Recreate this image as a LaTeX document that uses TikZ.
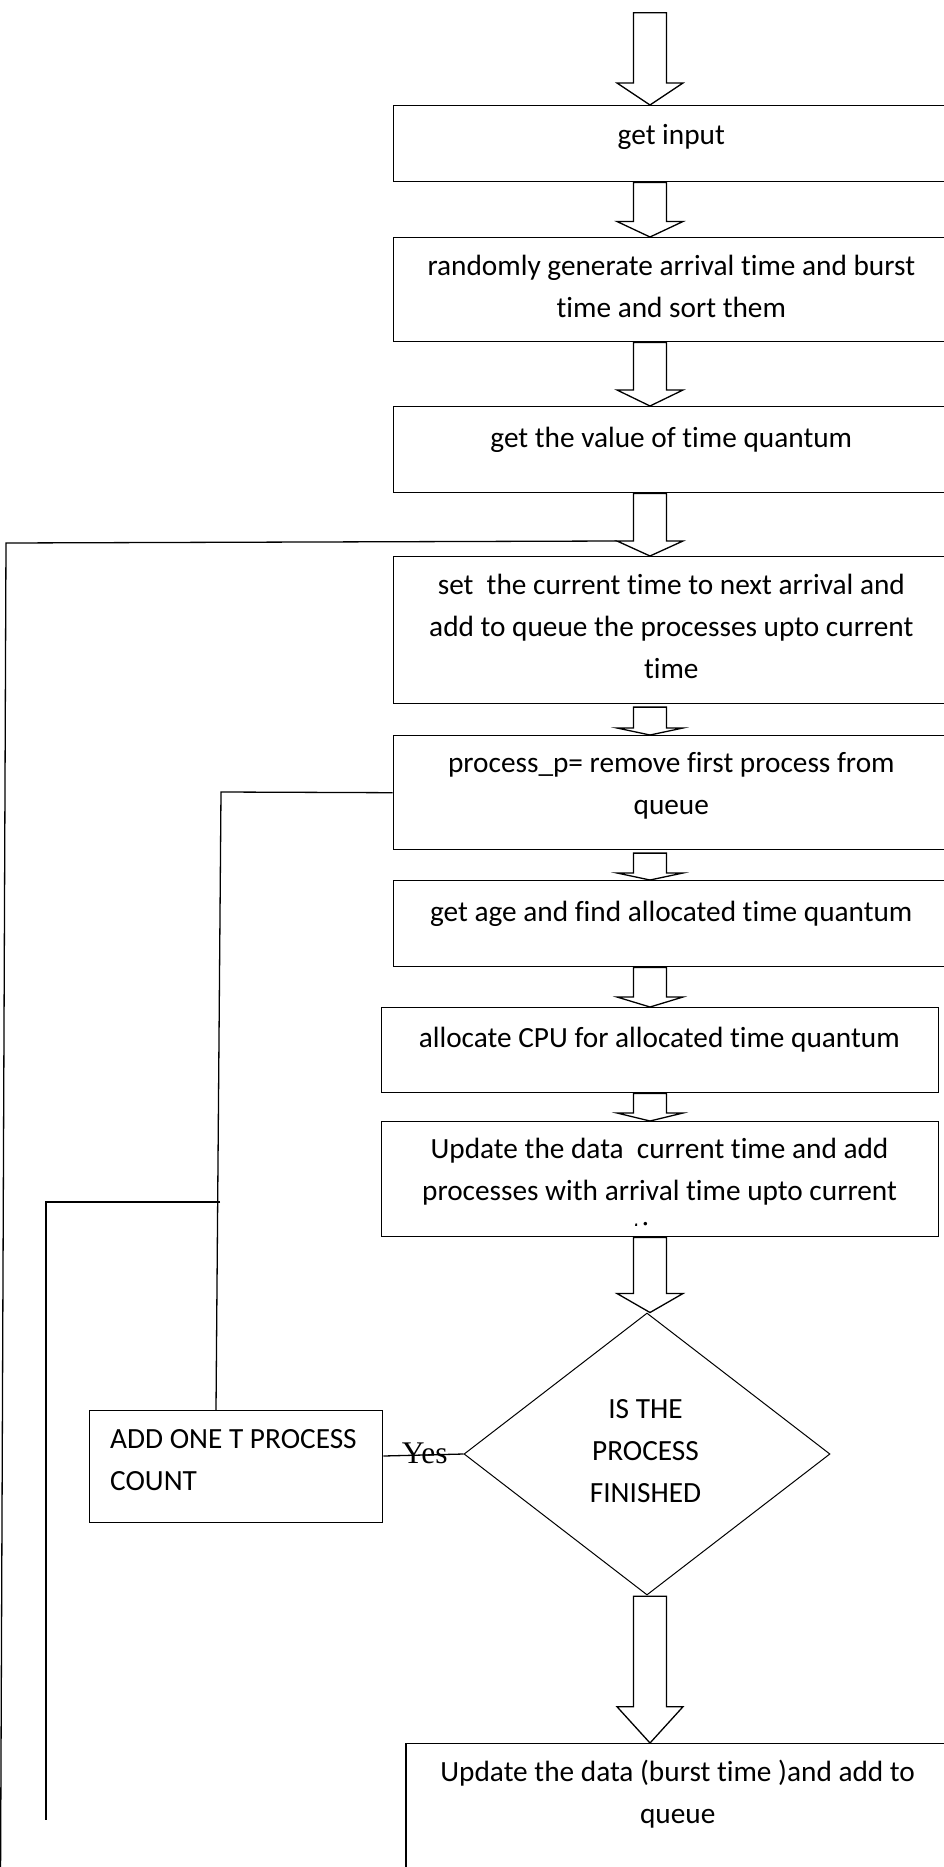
\documentclass[tikz,border=0pt]{standalone}
\usepackage{fontspec}
\setmainfont{Carlito}[Ligatures=NoCommon]
\newfontfamily\yesfont{Liberation Serif}
\usetikzlibrary{shapes.geometric,calc}

\tikzset{
  stepbox/.style={draw, line width=1.4pt, inner sep=0pt, anchor=north west},
  boxtext/.style={inner sep=0pt, anchor=north, align=center,
    font=\fontsize{29.3}{42}\selectfont, execute at begin node=\strut},
  blockarr/.style={draw, fill=white, line width=1.3pt, line join=miter},
  conn/.style={line width=1.3pt},
  decision/.style={diamond, draw, line width=1pt, inner sep=0pt},
  yeslbl/.style={inner sep=0pt, anchor=base west, font=\yesfont\fontsize{31.5}{36}\selectfont},
}

% hollow block arrow between two anchors: #1 source, #2 target,
% #3 gap below the source, #4 head length
\def\arrx{650pt}
\newcommand\blockarrow[4]{%
  \draw[blockarr] let \p1=(#1), \p2=(#2) in
    (\arrx-16.5pt,\y1-#3pt) -- (\arrx-16.5pt,\y2+#4pt) -- (\arrx-33pt,\y2+#4pt)
    -- (\arrx,\y2) -- (\arrx+33pt,\y2+#4pt) -- (\arrx+16.5pt,\y2+#4pt)
    -- (\arrx+16.5pt,\y1-#3pt) -- cycle;}

\begin{document}
\begin{tikzpicture}[x=1pt,y=-1pt]
\useasboundingbox (0,0) rectangle (944,1867);
\clip (0,0) rectangle (944,1867);

% process boxes
\node[stepbox, minimum width=557.4pt, minimum height=76pt]  (b1) at (392.6,105) {};
\node[stepbox, minimum width=557.4pt, minimum height=104pt] (b2) at (392.6,237) {};
\node[stepbox, minimum width=557.4pt, minimum height=86pt]  (b3) at (392.6,406) {};
\node[stepbox, minimum width=557.5pt, minimum height=147pt] (b4) at (392.5,556) {};
\node[stepbox, minimum width=557.5pt, minimum height=114pt] (b5) at (392.5,735) {};
\node[stepbox, minimum width=557.5pt, minimum height=86pt]  (b6) at (392.5,880) {};
\node[stepbox, minimum width=556.5pt, minimum height=85pt]  (b7) at (381,1007) {};
\node[stepbox, minimum width=557pt,   minimum height=115pt] (b8) at (381,1121) {};
\node[stepbox, minimum width=545pt,   minimum height=200pt] (b10) at (405.4,1743) {};
\node[stepbox, minimum width=293pt,   minimum height=112pt] (add) at (89,1410) {};
\node[decision, minimum width=366pt, minimum height=282pt] (d) at (647,1454) {};

% box texts
\node[boxtext] (t1) at (671.3,114.8) {get input};
\node[boxtext] (t2) at (671.3,254.8) {randomly generate arrival time and burst\\time and sort them};
\node[boxtext] (t3) at (671.3,417.8) {get the value of time quantum};
\node[boxtext] (t4) at (671.3,573.8) {set\ \ the current time to next arrival and\\add to queue the processes upto current\\time};
\node[boxtext] (t5) at (671.3,752.3) {process\_p= remove first process from\\queue};
\node[boxtext] (t6) at (671.3,891.8) {get age and find allocated time quantum};
\node[boxtext] (t7) at (659.3,1017.8) {allocate CPU for allocated time quantum};
\begin{scope}
  \clip (381,1121) rectangle (938,1225);
  \node[boxtext] (t8) at (659.5,1138.3) {Update the data\ \ current time and add\\processes with arrival time upto current\\time};
\end{scope}
\node[boxtext, anchor=north west, align=left] (tadd) at (110,1429.3) {ADD ONE T PROCESS\\COUNT};
\node[boxtext] (td) at (645.5,1399.3) {IS THE\\PROCESS\\FINISHED};
\node[boxtext] (t10) at (677.7,1760.3) {Update the data (burst time )and add to\\queue};

% block arrows along the main flow
\coordinate (start) at (650,12.7);
\blockarrow{start}{b1.north}{0}{22}
\blockarrow{b1.south}{b2.north}{0}{15.5}
\blockarrow{b2.south}{b3.north}{0}{16}
\blockarrow{b3.south}{b4.north}{0}{15}
\blockarrow{b4.south}{b5.north}{2.7}{7}
\blockarrow{b5.south}{b6.north}{2.7}{7}
\blockarrow{b6.south}{b7.north}{0}{10}
\blockarrow{b7.south}{b8.north}{0}{8}
\blockarrow{b8.south}{d.north}{0}{19}
\blockarrow{d.south}{b10.north}{0.7}{36.3}

% return lines on the left
\coordinate (loopin) at (617,541);
\coordinate (loopcorner) at (6,543);
\coordinate (loopend) at (0.5,1885);
\draw[conn] (loopin) -- (loopcorner) -- (loopend);

\coordinate (j1) at (221,792);
\draw[conn] (b5.west) -- (j1) -- ($(add.north west)+(127,0)$);

\coordinate (j2) at (220,1202);
\coordinate (j3) at (46,1202);
\coordinate (j3end) at (46,1820);
\draw[conn] (j2) -- (j3) -- (j3end);

% yes branch
\draw[conn] ($(add.north east)+(0,46)$) -- (d.west);
\node[yeslbl] (yes) at (401.7,1463.3) {Yes};
\end{tikzpicture}
\end{document}
